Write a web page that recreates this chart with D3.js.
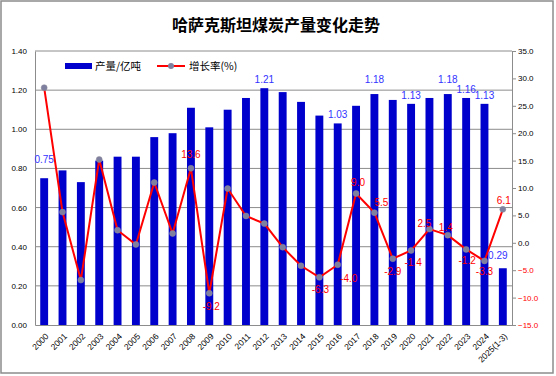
<!DOCTYPE html>
<html lang="zh">
<head>
<meta charset="utf-8">
<title>哈萨克斯坦煤炭产量变化走势</title>
<script src="https://cdn.jsdelivr.net/npm/d3@7"></script>
<style>
  body { margin: 0; background: #fff; }
  text { font-family: "Liberation Sans", Arial, sans-serif; }
</style>
</head>
<body>
<svg width="556" height="376"></svg>
<script>
// 数据
var years = ["2000","2001","2002","2003","2004","2005","2006","2007","2008","2009",
             "2010","2011","2012","2013","2014","2015","2016","2017","2018","2019",
             "2020","2021","2022","2023","2024","2025(1-3)"];
var output = [0.75,0.79,0.73,0.84,0.86,0.86,0.96,0.98,1.11,1.01,
              1.10,1.16,1.21,1.19,1.14,1.07,1.03,1.12,1.18,1.15,
              1.13,1.16,1.18,1.16,1.13,0.29];
var growth = [28.3,5.6,-6.8,15.2,2.3,-0.3,11.0,1.7,13.6,-9.2,
              9.9,4.9,3.5,-0.8,-4.2,-6.3,-4.0,9.0,5.5,-2.9,
              -1.4,2.5,1.4,-1.2,-3.3,6.1];
var leftTicks = [0,0.2,0.4,0.6,0.8,1.0,1.2,1.4];
var rightTicks = [-15,-10,-5,0,5,10,15,20,25,30,35];
// 带数据标签的年份
var outputLabeled = ["2000","2012","2016","2018","2020","2022","2023","2024","2025(1-3)"];
var growthLabeled = ["2008","2009","2015","2016","2017","2018","2019","2020","2021","2022","2023","2024","2025(1-3)"];

// 标签微调 (dx, dy)
var outNudge = {"2000": [0, -10], "2025(1-3)": [-5, -4], "2018": [0, -6], "2022": [0, -6]};
var grNudge = {
  "2008": [0, -10], "2009": [2, 17], "2015": [1, 16], "2016": [11, 17], "2017": [2, -7],
  "2018": [7, -7], "2019": [0, 16], "2020": [2, 16], "2021": [-5, -2], "2022": [-2, -4],
  "2023": [1, 15], "2024": [0, 14], "2025(1-3)": [1, -5]
};

var svg = d3.select("svg");
var mLeft = 35, mRight = 512, mTop = 51, mBottom = 325;

svg.append("rect").attr("x", 1).attr("y", 1).attr("width", 552).attr("height", 372)
  .attr("fill", "#fff").attr("stroke", "#8c8c8c").attr("stroke-width", 1.5);

svg.append("text").attr("x", 276).attr("y", 31).attr("text-anchor", "middle")
  .style("font-family", "'Noto Sans CJK SC', sans-serif").style("font-weight", "bold")
  .style("font-size", "16px").text("哈萨克斯坦煤炭产量变化走势");

var x = d3.scaleBand().domain(years).range([mLeft, mRight]).paddingInner(0.57).paddingOuter(0.285);
var yL = d3.scaleLinear().domain([0, 1.4]).range([mBottom, mTop]);
var yR = d3.scaleLinear().domain([-15, 35]).range([mBottom, mTop]);

// 网格线
svg.append("g").selectAll("line").data(leftTicks.slice(1)).enter().append("line")
  .attr("x1", mLeft).attr("x2", mRight)
  .attr("y1", function(d) { return yL(d); }).attr("y2", function(d) { return yL(d); })
  .attr("stroke", "#8c8c8c").attr("stroke-width", 1);

// 柱
svg.append("g").selectAll("rect").data(years).enter().append("rect")
  .attr("x", function(d) { return x(d); })
  .attr("width", x.bandwidth())
  .attr("y", function(d, i) { return yL(output[i]); })
  .attr("height", function(d, i) { return mBottom - yL(output[i]); })
  .attr("fill", "#0000cc");

// 坐标轴
var axL = d3.axisLeft(yL).tickValues(leftTicks).tickFormat(d3.format(".2f")).tickSize(0).tickPadding(8);
var gL = svg.append("g").attr("transform", "translate(" + mLeft + ",0)").call(axL);
gL.select(".domain").attr("stroke", "#8c8c8c");
gL.selectAll("text").style("font-size", "8px").attr("fill", "#000");

var axR = d3.axisRight(yR).tickValues(rightTicks).tickFormat(d3.format(".1f")).tickSize(4).tickPadding(2);
var gR = svg.append("g").attr("transform", "translate(" + mRight + ",0)").call(axR);
gR.select(".domain").attr("stroke", "#8c8c8c");
gR.selectAll("line").attr("stroke", "#8c8c8c");
gR.selectAll("text").style("font-size", "8px")
  .attr("fill", function(d) { return d < 0 ? "#ff0000" : "#000"; });

var axB = d3.axisBottom(x).tickSize(0).tickPadding(0);
var gB = svg.append("g").attr("transform", "translate(0," + mBottom + ")").call(axB);
gB.select(".domain").attr("stroke", "#8c8c8c");
gB.selectAll("text").style("font-size", "8.5px").attr("fill", "#000")
  .attr("text-anchor", "end").attr("dy", "0")
  .attr("transform", "translate(5,12) rotate(-45)");

// 折线
var cx = function(d) { return x(d) + x.bandwidth() / 2; };
var line = d3.line()
  .x(function(d, i) { return cx(years[i]); })
  .y(function(d) { return yR(d); });
svg.append("path").datum(growth).attr("d", line)
  .attr("fill", "none").attr("stroke", "#ff0000").attr("stroke-width", 2);
svg.append("g").selectAll("circle").data(growth).enter().append("circle")
  .attr("cx", function(d, i) { return cx(years[i]); })
  .attr("cy", function(d) { return yR(d); })
  .attr("r", 3).attr("fill", "#7f7f9f").attr("stroke", "#8c8c9c").attr("stroke-width", 0.5);

// 数据标签
svg.append("g").selectAll("text").data(outputLabeled).enter().append("text")
  .attr("x", function(d) { return cx(d) + (outNudge[d] ? outNudge[d][0] : 0); })
  .attr("y", function(d) { return yL(output[years.indexOf(d)]) - 5 + (outNudge[d] ? outNudge[d][1] : 0); })
  .attr("text-anchor", "middle").style("font-size", "10px").attr("fill", "#3333ff")
  .text(function(d) { return output[years.indexOf(d)].toFixed(2); });

svg.append("g").selectAll("text").data(growthLabeled).enter().append("text")
  .attr("x", function(d) { return cx(d) + grNudge[d][0]; })
  .attr("y", function(d) { return yR(growth[years.indexOf(d)]) + grNudge[d][1]; })
  .attr("text-anchor", "middle").style("font-size", "10px").attr("fill", "#ff0000")
  .text(function(d) { return growth[years.indexOf(d)].toFixed(1); });

// 图例
var lg = svg.append("g");
lg.append("rect").attr("x", 65).attr("y", 63).attr("width", 27).attr("height", 6).attr("fill", "#0000cc");
lg.append("text").attr("x", 95).attr("y", 70).style("font-family", "'Noto Sans CJK SC', sans-serif")
  .style("font-size", "10.5px").text("产量/亿吨");
lg.append("line").attr("x1", 157).attr("x2", 185).attr("y1", 66).attr("y2", 66)
  .attr("stroke", "#ff0000").attr("stroke-width", 2);
lg.append("circle").attr("cx", 171).attr("cy", 66).attr("r", 3).attr("fill", "#7f7f9f");
lg.append("text").attr("x", 189).attr("y", 70).style("font-family", "'Noto Sans CJK SC', sans-serif")
  .style("font-size", "10.5px").text("增长率(%)");
</script>
</body>
</html>
